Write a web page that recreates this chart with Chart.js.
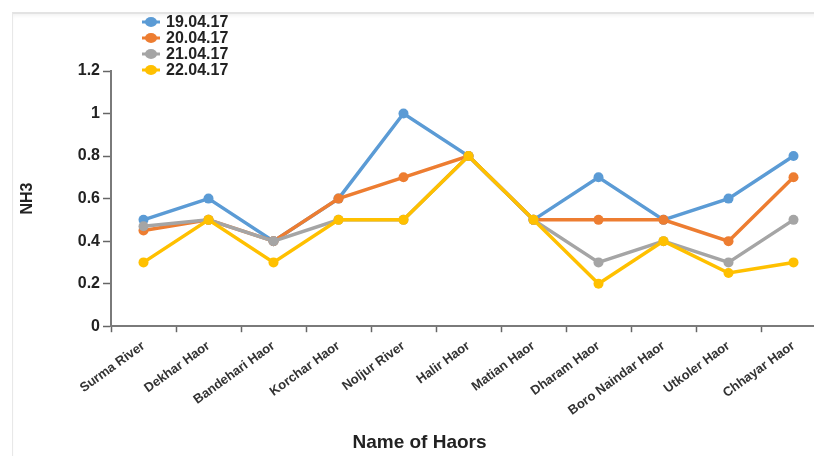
<!DOCTYPE html>
<html>
<head>
<meta charset="utf-8">
<script src="https://cdn.jsdelivr.net/npm/chart.js@4"></script>
<style>
  html, body { margin: 0; padding: 0; background: #fff; overflow: hidden; }
  body { width: 814px; height: 456px; position: relative; }
  #frame {
    position: absolute; left: 12px; top: 12px; width: 840px; height: 460px;
    border-top: 2px solid #e3e3e3; border-left: 1px solid #e8e8e8;
    box-shadow: inset 0 3px 4px -2px #eee;
  }
  #wrap { position: absolute; left: 13px; top: 14px; width: 830px; height: 442px; }
</style>
</head>
<body>
<div id="frame"></div>
<div id="wrap"><canvas id="chart"></canvas></div>
<script>
const haors = ["Surma River", "Dekhar Haor", "Bandehari Haor", "Korchar Haor", "Noljur River",
  "Halir Haor", "Matian Haor", "Dharam Haor", "Boro Naindar Haor", "Utkoler Haor", "Chhayar Haor"];
const dates = ["19.04.17", "20.04.17", "21.04.17", "22.04.17"];
const nh3_19 = [0.5, 0.6, 0.4, 0.6, 1.0, 0.8, 0.5, 0.7, 0.5, 0.6, 0.8];
const nh3_20 = [0.45, 0.5, 0.4, 0.6, 0.7, 0.8, 0.5, 0.5, 0.5, 0.4, 0.7];
const nh3_21 = [0.47, 0.5, 0.4, 0.5, 0.5, 0.8, 0.5, 0.3, 0.4, 0.3, 0.5];
const nh3_22 = [0.3, 0.5, 0.3, 0.5, 0.5, 0.8, 0.5, 0.2, 0.4, 0.25, 0.3];
const yTicks = [0, 0.2, 0.4, 0.6, 0.8, 1, 1.2];
const yTickLabels = ["0", "0.2", "0.4", "0.6", "0.8", "1", "1.2"];

const colors = ["#5B9BD5", "#ED7D31", "#A5A5A5", "#FFC000"];
const series = [nh3_19, nh3_20, nh3_21, nh3_22];

const datasets = series.map((values, i) => ({
  label: dates[i],
  data: values,
  borderColor: colors[i],
  backgroundColor: colors[i],
  borderWidth: 3.5,
  pointRadius: 5,
  pointBorderWidth: 0,
  tension: 0,
  order: 3 - i,
}));

// legend drawn in the top-left corner, over the plot like the original
const cornerLegend = {
  id: "cornerLegend",
  afterDraw(chart) {
    const ctx = chart.ctx;
    ctx.save();
    ctx.font = "bold 16px Arial";
    ctx.textBaseline = "middle";
    chart.data.datasets.forEach((ds, i) => {
      const y = 8 + i * 16;
      const x = 138;
      ctx.strokeStyle = ds.borderColor;
      ctx.lineWidth = 3;
      ctx.beginPath();
      ctx.moveTo(x - 9, y);
      ctx.lineTo(x + 9, y);
      ctx.stroke();
      ctx.fillStyle = ds.borderColor;
      ctx.beginPath();
      ctx.ellipse(x, y, 6, 5, 0, 0, Math.PI * 2);
      ctx.fill();
      ctx.fillStyle = "#222";
      ctx.fillText(ds.label, 153, y + 1);
    });
    ctx.restore();
  },
};

new Chart("chart", {
  type: "line",
  data: { labels: haors, datasets: datasets },
  plugins: [cornerLegend],
  options: {
    responsive: true,
    maintainAspectRatio: false,
    animation: false,
    layout: { padding: { top: 57, right: 17, left: 0, bottom: 0 } },
    plugins: {
      legend: { display: false },
      tooltip: { enabled: false },
      title: {
        display: true,
        position: "bottom",
        text: "Name of Haors",
        color: "#222",
        font: { family: "Arial", size: 19, weight: "bold" },
        padding: { top: 0, bottom: 2 },
      },
    },
    scales: {
      x: {
        offset: true,
        grid: { display: true, drawOnChartArea: false, offset: true, tickLength: 6, color: "#666", tickWidth: 1.5 },
        border: { color: "#7a7a7a", width: 2 },
        ticks: {
          autoSkip: false,
          minRotation: 36,
          maxRotation: 36,
          padding: 6,
          color: "#333",
          font: { family: "Arial", size: 13, weight: "bold" },
        },
        afterFit(scale) { scale.height = 105; },
      },
      y: {
        min: 0,
        max: 1.2,
        afterBuildTicks(scale) { scale.ticks = yTicks.map((v) => ({ value: v })); },
        grid: { display: true, drawOnChartArea: false, tickLength: 8, color: "#666", tickWidth: 1.5 },
        border: { color: "#7a7a7a", width: 2 },
        ticks: {
          padding: 3,
          color: "#222",
          font: { family: "Arial", size: 16, weight: "bold" },
          callback: (value, index) => yTickLabels[index],
        },
        title: {
          display: true,
          text: "NH3",
          color: "#222",
          font: { family: "Arial", size: 16, weight: "bold" },
          padding: { top: 5, bottom: 4 },
        },
        afterFit(scale) { scale.width = 98; },
      },
    },
  },
});
</script>
</body>
</html>
